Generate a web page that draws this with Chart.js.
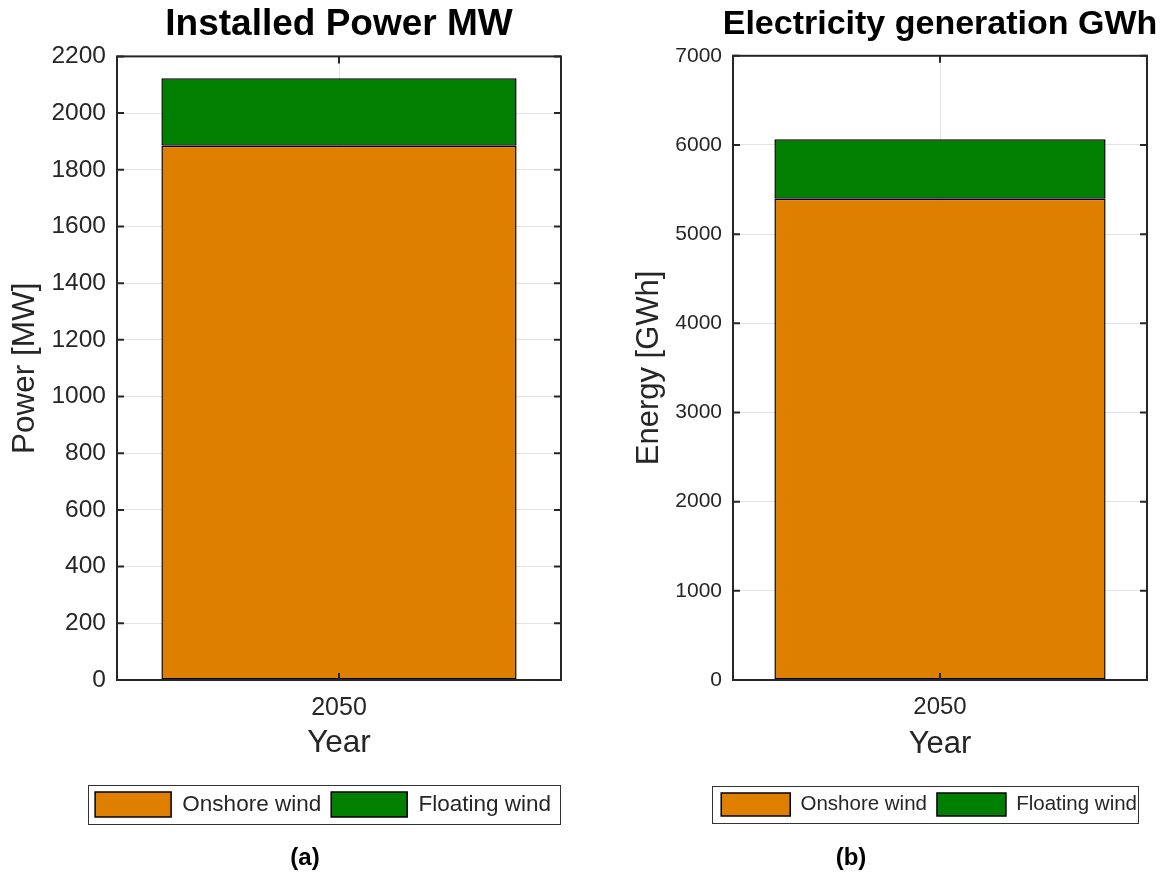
<!DOCTYPE html>
<html>
<head>
<meta charset="utf-8">
<script src="https://cdn.jsdelivr.net/npm/chart.js@4/dist/chart.umd.min.js"></script>
<style>
  html, body { margin: 0; padding: 0; background: #fff; }
  body { width: 1163px; height: 874px; position: relative; overflow: hidden;
         font-family: "Liberation Sans", Arial, sans-serif; }
  canvas { position: absolute; top: 0; }
  #powerChart { left: 0; }
  #energyChart { left: 600px; }
  .panel { position: absolute; font-weight: bold; font-size: 24px; color: #000;
           transform: translate(-50%, -50%); white-space: nowrap; }
</style>
</head>
<body>
<canvas id="powerChart" width="600" height="874"></canvas>
<canvas id="energyChart" width="563" height="874"></canvas>
<div class="panel" style="left:305px; top:857px;">(a)</div>
<div class="panel" style="left:851px; top:857px;">(b)</div>

<script>
// ---- data ----
const years = ['2050'];
const seriesNames = ['Onshore wind', 'Floating wind'];
const seriesColors = ['#DF7F00', '#007F00'];

const onshorePowerMW = [1885];
const floatingPowerMW = [238];

const onshoreEnergyGWh = [5398];
const floatingEnergyGWh = [666];

const powerTicks = { min: 0, max: 2200, step: 200 };
const energyTicks = { min: 0, max: 7000, step: 1000 };

const FONT = '"Liberation Sans", Arial, sans-serif';
const INK = '#262626';

// Let the title run wider than the plot area (it stays centred on it),
// so a long title is not squeezed to the plot width.
const wideTitle = {
  id: 'wideTitle',
  afterLayout(chart) {
    const t = chart.titleBlock;
    if (!t) return;
    t.left -= 80;
    t.right += 80;
    t.width = t.right - t.left;
  }
};

// Box around the plot area with inward tick marks on all four sides.
const axesFrame = {
  id: 'axesFrame',
  afterDatasetsDraw(chart) {
    const { ctx, chartArea: a, scales } = chart;
    const L = 7;
    ctx.save();
    ctx.strokeStyle = INK;
    ctx.lineWidth = 2;
    ctx.strokeRect(a.left, a.top, a.right - a.left, a.bottom - a.top);
    ctx.beginPath();
    scales.y.ticks.forEach((t, i) => {
      const y = scales.y.getPixelForTick(i);
      ctx.moveTo(a.left, y); ctx.lineTo(a.left + L, y);
      ctx.moveTo(a.right, y); ctx.lineTo(a.right - L, y);
    });
    scales.x.ticks.forEach((t, i) => {
      const x = scales.x.getPixelForTick(i);
      ctx.moveTo(x, a.bottom); ctx.lineTo(x, a.bottom - L);
      ctx.moveTo(x, a.top); ctx.lineTo(x, a.top + L);
    });
    ctx.stroke();
    ctx.restore();
  }
};

// Thin rectangle around the legend entries.
const legendFrame = {
  id: 'legendFrame',
  afterDraw(chart, args, opts) {
    const boxes = chart.legend && chart.legend.legendHitBoxes;
    if (!boxes || !boxes.length) return;
    const first = boxes[0], last = boxes[boxes.length - 1];
    const x0 = Math.round(first.left - opts.padLeft) + 0.5;
    const x1 = Math.round(last.left + last.width + opts.padRight) + 0.5;
    const y0 = Math.round(first.top - opts.padY) + 0.5;
    const y1 = Math.round(first.top + first.height + opts.padY) + 0.5;
    const ctx = chart.ctx;
    ctx.save();
    ctx.strokeStyle = '#333333';
    ctx.lineWidth = 1;
    ctx.strokeRect(x0, y0, x1 - x0, y1 - y0);
    ctx.restore();
  }
};

function makeChart(id, p) {
  return new Chart(document.getElementById(id), {
    type: 'bar',
    data: {
      labels: years,
      datasets: [
        { label: seriesNames[0], data: p.onshore, backgroundColor: seriesColors[0],
          borderColor: '#000', borderWidth: 1.5, borderSkipped: false },
        { label: seriesNames[1], data: p.floating, backgroundColor: seriesColors[1],
          borderColor: '#000', borderWidth: 1.5, borderSkipped: false }
      ]
    },
    plugins: [wideTitle, axesFrame, legendFrame],
    options: {
      responsive: false,
      animation: false,
      devicePixelRatio: 1,
      layout: { padding: { left: 0, right: p.padRight, top: 0, bottom: p.padBottom } },
      datasets: { bar: { barPercentage: 0.8, categoryPercentage: 1.0 } },
      plugins: {
        tooltip: { enabled: false },
        title: {
          display: true, text: p.title, fullSize: false, color: '#000',
          font: { family: FONT, size: p.titleSize, weight: 'bold', lineHeight: 1.2 },
          padding: { top: p.titlePadTop, bottom: p.titlePadBottom }
        },
        legend: {
          display: true, position: 'bottom', align: 'end', fullSize: true,
          labels: {
            color: INK, boxWidth: p.swatchW, boxHeight: p.swatchH, padding: 10,
            font: { family: FONT, size: p.legendSize }
          }
        },
        legendFrame: { padLeft: p.legendPadLeft, padRight: p.legendPadRight, padY: 7 }
      },
      scales: {
        x: {
          stacked: true,
          offset: true,
          grid: { display: true, offset: false, color: '#e3e3e3', lineWidth: 1, drawTicks: false },
          border: { display: false },
          ticks: { color: INK, padding: p.xTickPad, font: { family: FONT, size: p.xTickSize } },
          title: { display: true, text: 'Year', color: INK,
                   font: { family: FONT, size: p.axisTitleSize, lineHeight: 1.2 },
                   padding: { top: 0, bottom: p.xTitlePadBottom } },
          afterFit(scale) { scale.height = p.xAxisHeight; }
        },
        y: {
          stacked: true,
          min: p.ticks.min, max: p.ticks.max,
          grid: { color: '#e3e3e3', lineWidth: 1, drawTicks: false },
          border: { display: false },
          ticks: { stepSize: p.ticks.step, color: INK, padding: 11,
                   font: { family: FONT, size: p.yTickSize },
                   callback: (v) => String(v) },
          title: { display: true, text: p.yTitle, color: INK,
                   font: { family: FONT, size: p.axisTitleSize, lineHeight: 1.2 },
                   padding: { top: p.yTitlePadTop, bottom: 0 } },
          afterFit(scale) { scale.width = p.yAxisWidth; }
        }
      }
    }
  });
}

makeChart('powerChart', {
  onshore: onshorePowerMW, floating: floatingPowerMW, ticks: powerTicks,
  title: 'Installed Power MW', yTitle: 'Power [MW]',
  titleSize: 37, titlePadTop: 3, titlePadBottom: 9,
  xTickSize: 25, yTickSize: 24.5, axisTitleSize: 31.5, legendSize: 22.5,
  swatchW: 76, swatchH: 25, legendPadLeft: 7, legendPadRight: 9,
  padRight: 39, padBottom: 47,
  yAxisWidth: 117, xAxisHeight: 102, xTickPad: 13, xTitlePadBottom: 20, yTitlePadTop: 6
});

makeChart('energyChart', {
  onshore: onshoreEnergyGWh, floating: floatingEnergyGWh, ticks: energyTicks,
  title: 'Electricity generation GWh', yTitle: 'Energy [GWh]',
  titleSize: 34, titlePadTop: 4, titlePadBottom: 11,
  xTickSize: 24, yTickSize: 21, axisTitleSize: 31, legendSize: 20.5,
  swatchW: 69, swatchH: 23, legendPadLeft: 9, legendPadRight: 1,
  padRight: 16, padBottom: 48,
  yAxisWidth: 133, xAxisHeight: 103, xTickPad: 13, xTitlePadBottom: 20, yTitlePadTop: 31
});
</script>
</body>
</html>
